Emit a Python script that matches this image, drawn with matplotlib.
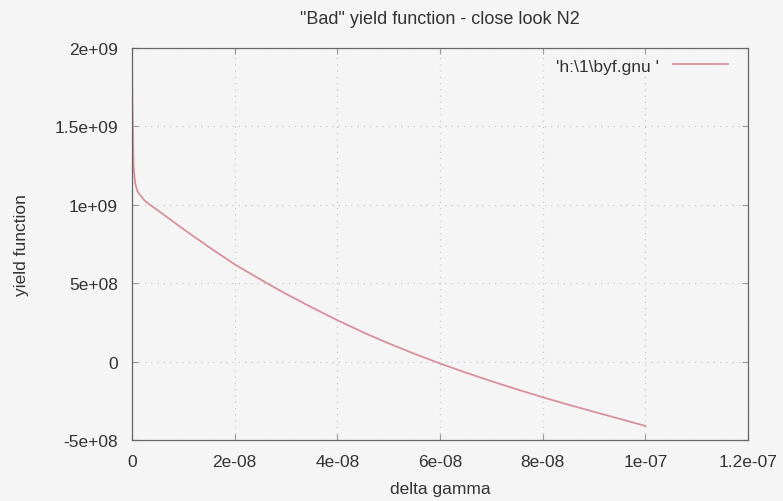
import matplotlib
matplotlib.use("Agg")
import matplotlib.pyplot as plt

# delta gamma vs yield function samples
delta_gamma = [0, 0.1e-9, 0.3e-9, 0.6e-9, 1.0e-9, 1.5e-9, 2.5e-9, 3.5e-9, 5e-9,
               10e-9, 15e-9, 20e-9, 26.8e-9, 30e-9, 35e-9, 40e-9, 45e-9, 50e-9,
               55e-9, 60e-9, 65e-9, 70e-9, 75e-9, 80e-9, 85e-9, 90e-9, 95e-9, 100e-9]
yield_fn = [1.9e9, 1.6e9, 1.25e9, 1.14e9, 1.09e9, 1.065e9, 1.025e9, 1.0e9, 9.65e8,
            8.45e8, 7.3e8, 6.2e8, 4.9e8, 4.32e8, 3.46e8, 2.64e8, 1.87e8, 1.16e8,
            0.5e8, -0.12e8, -0.7e8, -1.25e8, -1.77e8, -2.27e8, -2.75e8, -3.2e8,
            -3.65e8, -4.1e8]

xticks = [0, 2e-8, 4e-8, 6e-8, 8e-8, 1e-7, 1.2e-7]
xtick_labels = ["0", "2e-08", "4e-08", "6e-08", "8e-08", "1e-07", "1.2e-07"]
yticks = [-5e8, 0, 5e8, 1e9, 1.5e9, 2e9]
ytick_labels = ["-5e+08", "0", "5e+08", "1e+09", "1.5e+09", "2e+09"]

plt.rcParams['font.family'] = ['Liberation Sans', 'DejaVu Sans']

fig = plt.figure(figsize=(7.83, 5.02), dpi=100)
fig.patch.set_facecolor('#f5f5f5')
ax = fig.add_axes([0.1686, 0.1215, 0.7867, 0.781])
ax.set_facecolor('#f5f5f5')

ax.plot(delta_gamma, yield_fn, color='#d8909c', lw=1.3, label="'h:\\1\\byf.gnu '")

ax.set_xlim(0, 1.2e-7)
ax.set_ylim(-5e8, 2e9)
ax.set_xticks(xticks)
ax.set_xticklabels(xtick_labels)
ax.set_yticks(yticks)
ax.set_yticklabels(ytick_labels)
ax.tick_params(direction='in', top=True, right=True, length=4, color='#999999',
               labelsize=12.5, labelcolor='#333333', pad=10)
ax.grid(True, linestyle=(0, (1, 4)), color='#c8c8c8', lw=0.9)
for s in ax.spines.values():
    s.set_color('#666666')
    s.set_linewidth(0.9)

ax.set_title('"Bad" yield function - close look N2', fontsize=13, color='#333333', pad=18)
ax.set_xlabel('delta gamma', fontsize=12.5, color='#333333', labelpad=9)
ax.set_ylabel('yield function', fontsize=12.5, color='#333333', labelpad=18)

ax.legend(loc='upper right', frameon=False, markerfirst=False, fontsize=12.5,
          handlelength=3.2, labelcolor='#333333', borderaxespad=0.2,
          bbox_to_anchor=(0.985, 1.0))

fig.savefig('out.png', dpi=100, facecolor=fig.get_facecolor())
